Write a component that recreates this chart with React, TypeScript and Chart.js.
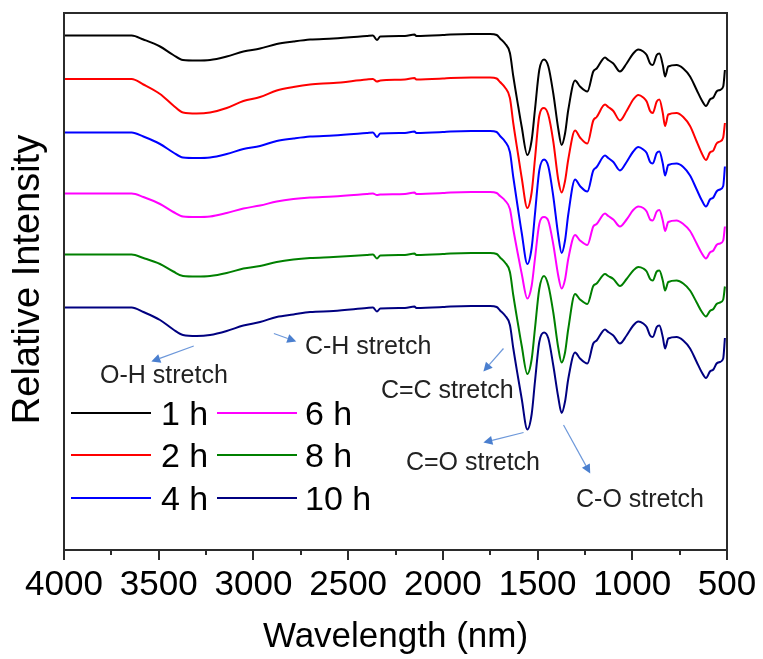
import React, { useEffect, useRef } from "react";
import { Chart, registerables } from "chart.js";

Chart.register(...registerables);

// Wavenumber grid shared by all spectra (positions read on the x axis)
const wavenumbers = [
  4000, 3800, 3700, 3643, 3581, 3493, 3423, 3372, 3300, 3229, 3141, 3053, 2965, 2877, 2789, 2701, 2578, 2402, 2369,
  2348, 2330, 2200, 2150, 2140, 2000, 1960, 1850, 1751, 1716, 1698, 1672, 1646, 1628, 1602, 1584, 1554, 1531, 1514,
  1491, 1466, 1443, 1417, 1391, 1373, 1355, 1338, 1302, 1276, 1237, 1206, 1188, 1144, 1127, 1100, 1065, 1030, 995,
  968, 942, 924, 906, 892, 871, 857, 839, 827, 810, 766, 731, 695, 660, 634, 611, 590, 572, 555, 537, 520, 511,
];

const h1 = [
  102.5, 102.5, 102.5, 102.5, 101.7, 100.3, 98.6, 97.6, 97.5, 97.6, 98.3, 99.3, 99.9, 100.8, 101.3, 101.7, 101.9, 102.4,
  102.5, 101.6, 102.3, 102.4, 102.7, 102.4, 102.6, 102.7, 102.8, 102.8, 102.6,
  101.9, 100.9, 99.0, 94.3, 88.3, 84.3, 78.6, 81.6, 87.6, 95.6, 97.7, 96.3, 90.9, 83.9, 80.6, 82.9, 87.6,
  93.5, 92.3, 91.3, 95.3, 95.9, 98.1, 97.6, 96.9, 95.3, 96.9, 98.9, 99.7, 99.3, 98.6, 96.9, 96.6, 98.6, 98.9, 96.6,
  94.3, 96.3, 96.6, 95.9, 94.3, 91.6, 89.6, 88.4, 89.7, 90.1, 91.3, 91.6, 92.3, 95.6,
];

const h2 = [
  93.8, 93.8, 93.8, 93.8, 92.7, 90.8, 88.5, 87.1, 86.9, 87.1, 88.0, 89.4, 90.2, 91.5, 92.2, 92.7, 93.0, 93.7, 93.8,
  93.3, 93.5, 93.7, 94.0, 93.7, 93.9, 94.0, 94.1, 94.1, 93.9,
  93.2, 92.1, 90.0, 84.9, 78.5, 74.1, 68.0, 71.2, 77.7, 86.4, 88.0, 86.6, 81.3, 73.7, 71.1, 73.4, 77.7,
  83.5, 82.1, 80.9, 85.5, 86.2, 88.7, 88.2, 87.4, 85.5, 87.4, 89.7, 90.6, 90.1, 89.3, 87.4, 87.0, 89.3, 89.7, 87.0,
  84.4, 86.7, 87.0, 86.2, 84.4, 81.3, 79.0, 77.6, 79.1, 79.5, 80.9, 81.3, 82.1, 85.0,
];

const h4 = [
  83.1, 83.1, 83.1, 83.1, 82.3, 80.8, 79.1, 78.1, 78.0, 78.1, 78.8, 79.8, 80.4, 81.4, 81.9, 82.3, 82.5, 83.0, 83.1,
  82.2, 82.9, 83.0, 83.3, 83.0, 83.2, 83.3, 83.4, 83.4, 83.2,
  82.4, 81.3, 79.2, 74.1, 67.5, 63.1, 56.8, 60.1, 66.7, 75.5, 77.7, 76.3, 70.3, 62.6, 59.0, 61.5, 66.7,
  73.7, 72.4, 71.3, 75.5, 76.2, 78.5, 78.0, 77.2, 75.5, 77.2, 79.3, 80.2, 79.7, 79.0, 77.2, 76.9, 79.0, 79.3, 76.9,
  74.5, 76.6, 76.9, 76.2, 74.5, 71.7, 69.6, 68.3, 69.7, 70.1, 71.3, 71.7, 72.4, 76.3,
];

const h6 = [
  70.9, 70.9, 70.9, 70.9, 70.2, 68.8, 67.2, 66.3, 66.2, 66.3, 67.0, 67.9, 68.5, 69.3, 69.8, 70.1, 70.3, 70.8, 70.9,
  70.6, 70.7, 70.8, 71.1, 70.8, 71.0, 71.1, 71.2, 71.2, 71.0,
  70.4, 69.5, 67.8, 63.7, 58.4, 54.9, 49.9, 52.5, 57.8, 64.8, 66.2, 65.4, 60.7, 54.5, 51.9, 53.7, 57.8,
  62.6, 61.5, 60.6, 64.3, 64.8, 66.9, 66.4, 65.7, 64.3, 65.7, 67.6, 68.3, 68.0, 67.3, 65.7, 65.5, 67.3, 67.6, 65.5,
  63.4, 65.2, 65.5, 64.8, 63.4, 60.9, 59.0, 57.9, 59.1, 59.5, 60.6, 60.9, 61.5, 64.3,
];

const h8 = [
  58.7, 58.7, 58.7, 58.7, 58.0, 56.8, 55.3, 54.4, 54.3, 54.4, 55.0, 55.9, 56.4, 57.2, 57.7, 58.0, 58.2, 58.6, 58.7,
  57.9, 58.5, 58.6, 58.9, 58.6, 58.8, 58.9, 59.0, 59.0, 58.8,
  58.1, 57.1, 55.2, 50.5, 44.5, 40.5, 34.8, 37.8, 43.8, 51.8, 54.4, 52.5, 47.1, 40.1, 37.1, 39.1, 43.8,
  50.8, 49.7, 48.8, 52.4, 52.9, 54.8, 54.4, 53.8, 52.4, 53.8, 55.5, 56.2, 55.9, 55.3, 53.8, 53.5, 55.3, 55.5, 53.5,
  51.5, 53.2, 53.5, 52.9, 51.5, 49.1, 47.3, 46.3, 47.4, 47.8, 48.8, 49.1, 49.7, 52.3,
];

const h10 = [
  48.1, 48.1, 48.1, 48.1, 47.2, 45.6, 43.7, 42.6, 42.4, 42.6, 43.4, 44.5, 45.2, 46.2, 46.7, 47.2, 47.4, 48.0, 48.1,
  47.3, 47.9, 48.0, 48.3, 48.0, 48.2, 48.3, 48.4, 48.4, 48.2,
  47.5, 46.5, 44.6, 39.9, 33.9, 29.9, 23.7, 26.8, 33.2, 41.2, 43.1, 41.9, 36.5, 30.2, 27.0, 29.3, 33.8,
  39.1, 37.9, 36.9, 40.9, 41.5, 43.7, 43.2, 42.5, 40.9, 42.5, 44.5, 45.3, 44.9, 44.2, 42.5, 42.2, 44.2, 44.5, 42.2,
  39.9, 41.9, 42.2, 41.5, 39.9, 37.2, 35.2, 34.0, 35.3, 35.7, 36.9, 37.2, 37.9, 42.0,
];

const seriesLabels = ["1 h", "2 h", "4 h", "6 h", "8 h", "10 h"];
const seriesValues = [h1, h2, h4, h6, h8, h10];
const seriesColors = ["#000000", "#ff0000", "#0000ff", "#ff00ff", "#008000", "#000080"];

const majorTicks = [500, 1000, 1500, 2000, 2500, 3000, 3500, 4000];
const minorTicks = [750, 1250, 1750, 2250, 2750, 3250, 3750];

// Annotation labels: text, text anchor (wavenumber, intensity), arrow from -> to
const annotationTexts = ["O-H stretch", "C-H stretch", "C=C stretch", "C=O stretch", "C-O stretch"];
const annotationTextAt = [
  [3810, 33.0],
  [2728, 38.9],
  [2327, 30.0],
  [2195, 15.6],
  [1297, 8.2],
];
const annotationArrowFrom = [
  [3315, 40.4],
  [2892, 42.9],
  [1680, 39.9],
  [1574, 23.1],
  [1363, 24.6],
];
const annotationArrowTo = [
  [3539, 37.3],
  [2774, 41.3],
  [1786, 35.3],
  [1786, 21.1],
  [1222, 14.9],
];

const FONT = "'Liberation Sans', Arial, sans-serif";

const decorPlugin = {
  id: "decor",
  afterDraw(chart: any) {
    const { ctx, chartArea: a, scales } = chart;
    const x = scales.x;
    const y = scales.y;
    ctx.save();

    // frame
    ctx.strokeStyle = "#2b2b2b";
    ctx.lineWidth = 2;
    ctx.strokeRect(a.left, a.top, a.right - a.left, a.bottom - a.top);

    // ticks
    ctx.lineWidth = 2;
    ctx.beginPath();
    majorTicks.forEach((v) => {
      const px = Math.round(x.getPixelForValue(v));
      ctx.moveTo(px, a.bottom);
      ctx.lineTo(px, a.bottom + 10);
    });
    minorTicks.forEach((v) => {
      const px = Math.round(x.getPixelForValue(v));
      ctx.moveTo(px, a.bottom);
      ctx.lineTo(px, a.bottom + 5);
    });
    ctx.stroke();

    // annotations
    annotationTexts.forEach((t, i) => {
      const fx = x.getPixelForValue(annotationArrowFrom[i][0]);
      const fy = y.getPixelForValue(annotationArrowFrom[i][1]);
      const tx = x.getPixelForValue(annotationArrowTo[i][0]);
      const ty = y.getPixelForValue(annotationArrowTo[i][1]);
      const ang = Math.atan2(ty - fy, tx - fx);
      const head = 9;
      const hw = 4.5;
      const bx = tx - head * Math.cos(ang);
      const by = ty - head * Math.sin(ang);
      ctx.strokeStyle = "#6d98da";
      ctx.lineWidth = 1.2;
      ctx.beginPath();
      ctx.moveTo(fx, fy);
      ctx.lineTo(bx, by);
      ctx.stroke();
      ctx.fillStyle = "#4a7fcf";
      ctx.beginPath();
      ctx.moveTo(tx, ty);
      ctx.lineTo(bx + hw * Math.sin(ang), by - hw * Math.cos(ang));
      ctx.lineTo(bx - hw * Math.sin(ang), by + hw * Math.cos(ang));
      ctx.closePath();
      ctx.fill();

      ctx.fillStyle = "#222";
      ctx.font = `25px ${FONT}`;
      ctx.textAlign = "left";
      ctx.textBaseline = "alphabetic";
      ctx.fillText(t, x.getPixelForValue(annotationTextAt[i][0]), y.getPixelForValue(annotationTextAt[i][1]));
    });

    // legend (two columns, column-major)
    const ds = chart.data.datasets;
    const rows = [a.top + 400, a.top + 442, a.top + 485];
    const cols = [
      { line: a.left + 7, text: a.left + 97 },
      { line: a.left + 153, text: a.left + 241 },
    ];
    ctx.font = `34px ${FONT}`;
    ctx.textAlign = "left";
    ctx.textBaseline = "alphabetic";
    ds.forEach((d: any, i: number) => {
      const c = cols[Math.floor(i / 3)];
      const ry = rows[i % 3];
      ctx.strokeStyle = d.borderColor;
      ctx.lineWidth = 2;
      ctx.beginPath();
      ctx.moveTo(c.line, ry);
      ctx.lineTo(c.line + 80, ry);
      ctx.stroke();
      ctx.fillStyle = "#000";
      ctx.fillText(d.label, c.text, ry + 12);
    });

    // axis titles
    ctx.fillStyle = "#000";
    ctx.font = `35px ${FONT}`;
    ctx.textAlign = "center";
    ctx.textBaseline = "alphabetic";
    ctx.fillText("Wavelength (nm)", (a.left + a.right) / 2, 647);

    ctx.save();
    ctx.translate(39, (a.top + a.bottom) / 2 - 2);
    ctx.rotate(-Math.PI / 2);
    ctx.font = `38px ${FONT}`;
    ctx.fillText("Relative Intensity", 0, 0);
    ctx.restore();

    ctx.restore();
  },
};

export default function App() {
  const ref = useRef<HTMLCanvasElement | null>(null);

  useEffect(() => {
    if (!ref.current) return;
    const datasets = seriesLabels.map((label, s) => ({
      label,
      data: wavenumbers.map((w, i) => ({ x: w, y: seriesValues[s][i] })),
      borderColor: seriesColors[s],
      backgroundColor: seriesColors[s],
      borderWidth: 2,
      pointRadius: 0,
      fill: false,
      cubicInterpolationMode: "monotone" as const,
    }));

    const chart = new Chart(ref.current, {
      type: "line",
      data: { datasets },
      options: {
        animation: false,
        responsive: false,
        maintainAspectRatio: false,
        devicePixelRatio: 1,
        layout: { padding: { left: 64, right: 36, top: 13, bottom: 0 } },
        plugins: {
          legend: { display: false },
          tooltip: { enabled: false },
        },
        scales: {
          x: {
            type: "linear",
            min: 500,
            max: 4000,
            reverse: true,
            afterBuildTicks: (scale: any) => {
              scale.ticks = majorTicks.map((v) => ({ value: v }));
            },
            afterFit: (scale: any) => {
              scale.height = 109;
              scale.paddingLeft = 0;
              scale.paddingRight = 0;
            },
            grid: { display: false, drawTicks: false },
            border: { display: false },
            ticks: {
              autoSkip: false,
              maxRotation: 0,
              padding: 14,
              color: "#000",
              font: { family: FONT, size: 35 },
              callback: (v: any) => String(v),
            },
          },
          y: {
            type: "linear",
            display: false,
            min: -0.4,
            max: 107,
          },
        },
      },
      plugins: [decorPlugin],
    });
    return () => chart.destroy();
  }, []);

  return (
    <div style={{ position: "absolute", left: 0, top: 0, width: 763, height: 659, background: "#fff" }}>
      <canvas ref={ref} width={763} height={659} style={{ display: "block" }} />
    </div>
  );
}
